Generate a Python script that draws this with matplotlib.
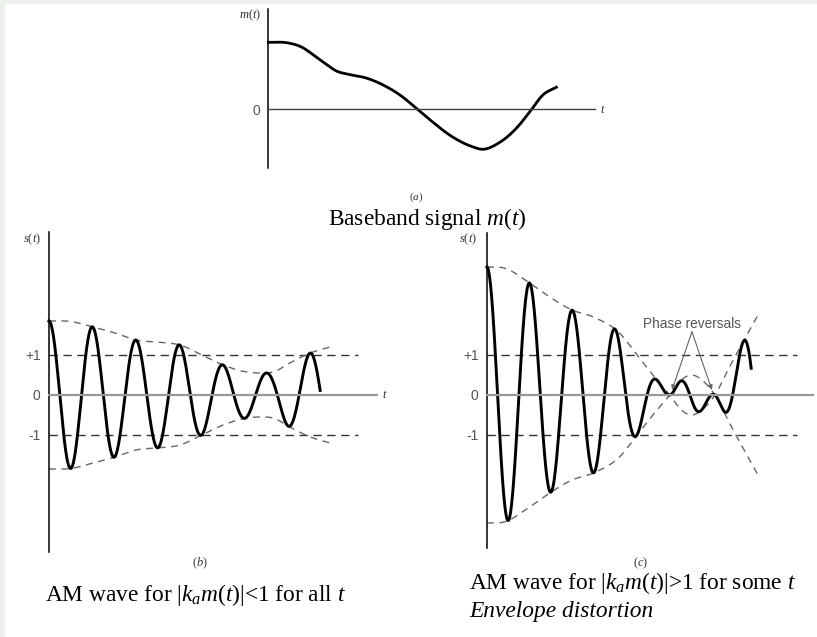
import numpy as np
import matplotlib
matplotlib.use("Agg")
import matplotlib.pyplot as plt
from matplotlib.patches import Rectangle

plt.rcParams['mathtext.fontset'] = 'custom'
plt.rcParams['mathtext.rm'] = 'Liberation Serif'
plt.rcParams['mathtext.it'] = 'Liberation Serif:italic'

#%% Data
# baseband signal m(t), normalised time 0..1
m_t = [0, .064, .110, .18, .242, .272, .342, .398, .457, .518, .569, .638, .708, .742, .80, .862, .908, .953, 1.0]
m_v = [1.0, .994, .94, .736, .561, .527, .464, .364, .213, 0.0, -.185, -.409, -.558, -.597, -.503, -.279, -.036, .213, .33]

# envelope 1 + ka*m(t) for |ka m(t)| < 1
env_b_t = [0, .075, .157, .235, .313, .39, .466, .544, .62, .70, .75, .80, .857, .93, 1.0]
env_b_v = [1.85, 1.84, 1.70, 1.55, 1.37, 1.32, 1.25, 1.0, 0.75, 0.58, 0.55, 0.58, 0.8, 1.05, 1.2]

# envelope for |ka m(t)| > 1 (goes negative -> phase reversals)
env_c_t = [0, .066, .15, .23, .31, .39, .487, .55, .62, .67, .71, .75, .79, .835, .89, .94, .993]
env_c_v = [3.2, 3.17, 2.83, 2.45, 2.13, 1.95, 1.54, 1.0, 0.4, 0.0, -0.36, -0.5, -0.36, 0.0, 0.72, 1.35, 2.0]

# carrier cycles per unit time, and where the drawn wave stops
fc_b, t_end_b = 6.46, 0.965
fc_c, t_end_c = 6.39, 0.968

level_ticks = [1, 0, -1]
level_labels = ['+1', '0', '-1']


#%% helpers
def smooth(tk, yk, t):
    # cubic hermite through the knots
    tk = np.asarray(tk, float)
    yk = np.asarray(yk, float)
    d = np.gradient(yk, tk)
    i = np.clip(np.searchsorted(tk, t, side='right') - 1, 0, len(tk) - 2)
    h = tk[i + 1] - tk[i]
    s = (t - tk[i]) / h
    h00 = 2*s**3 - 3*s**2 + 1
    h10 = s**3 - 2*s**2 + s
    h01 = -2*s**3 + 3*s**2
    h11 = s**3 - s**2
    return h00*yk[i] + h10*h*d[i] + h01*yk[i + 1] + h11*h*d[i + 1]


W, H = 817, 637
def box(x0, y0, x1, y1):
    return [x0/W, 1 - y1/H, (x1 - x0)/W, (y1 - y0)/H]

def fpos(x, y):
    return x/W, 1 - y/H

SERIF = 'Liberation Serif'
SANS = 'Liberation Sans'
CAP = 16.8   # caption font size
SMALL = 9    # s(t), m(t), (b) ...


def setup_axes(ax, xlim, ylim, left_bounds, zero_end, zero_color, zero_lw):
    ax.set_xlim(*xlim)
    ax.set_ylim(*ylim)
    ax.patch.set_alpha(0)
    for s in ['top', 'right']:
        ax.spines[s].set_visible(False)
    ax.spines['left'].set_position(('data', 0))
    ax.spines['left'].set_bounds(*left_bounds)
    ax.spines['left'].set_linewidth(1.1)
    ax.spines['bottom'].set_position(('data', 0))
    ax.spines['bottom'].set_bounds(0, zero_end)
    ax.spines['bottom'].set_color(zero_color)
    ax.spines['bottom'].set_linewidth(zero_lw)
    ax.set_xticks([])
    ax.tick_params(axis='y', length=0, pad=6, labelsize=10, labelcolor='#555555')


fig = plt.figure(figsize=(W/100, H/100), dpi=100)
fig.patches.append(Rectangle((0, 1 - 3/H), 1, 3/H, transform=fig.transFigure, color='#eef2ec', zorder=0))
fig.patches.append(Rectangle((0, 0), 4/W, 1, transform=fig.transFigure, color='#eef2ec', zorder=0))

#%% (a) baseband signal
ax_a = fig.add_axes(box(220, 4, 620, 175))
setup_axes(ax_a, (-0.168, 1.221), (-0.981, 1.572), (-0.876, 1.497), 1.134, '#444444', 1.0)
ax_a.set_yticks([0], ['0'])
for lab in ax_a.get_yticklabels():
    lab.set_family(SANS)
ta = np.linspace(0, 1, 400)
ax_a.plot(ta, smooth(m_t, m_v, ta), color='black', lw=2.0, clip_on=False)
ax_a.text(-0.064, 1.41, '$m(t)$', fontsize=SMALL, ha='center', va='center', color='#333333')
ax_a.text(1.163, 0, '$t$', fontsize=SMALL, ha='center', va='center', color='#333333')

#%% (b) AM wave, no overmodulation
ax_b = fig.add_axes(box(0, 228, 400, 560))
setup_axes(ax_b, (-0.174, 1.249), (-4.125, 4.175), (-3.925, 4.075), 1.167, '#999999', 1.6)
ax_b.set_yticks(level_ticks, level_labels)
for lab in ax_b.get_yticklabels():
    lab.set_family(SANS)
ax_b.hlines([1, -1], 0, 1.10, colors='#333333', lw=1.0, linestyles=(0, (6, 4)))
te = np.linspace(0, 1.0, 300)
eb = smooth(env_b_t, env_b_v, te)
ax_b.plot(te, eb, color='#666666', lw=1.0, ls=(0, (5, 4)))
ax_b.plot(te, -eb, color='#666666', lw=1.0, ls=(0, (5, 4)))
tb = np.linspace(0, t_end_b, 1200)
ax_b.plot(tb, smooth(env_b_t, env_b_v, tb)*np.cos(2*np.pi*fc_b*tb), color='black', lw=2.1, clip_on=False)
ax_b.text(-0.06, 3.9, '$s(t)$', fontsize=SMALL, ha='center', va='center', color='#333333')
ax_b.text(1.196, 0, '$t$', fontsize=SMALL, ha='center', va='center', color='#333333')

#%% (c) AM wave, overmodulated
ax_c = fig.add_axes(box(420, 228, 817, 560))
setup_axes(ax_c, (-0.245, 1.209), (-4.125, 4.175), (-3.825, 4.05), 1.194, '#999999', 1.6)
ax_c.set_yticks(level_ticks, level_labels)
for lab in ax_c.get_yticklabels():
    lab.set_family(SANS)
ax_c.hlines([1, -1], 0, 1.136, colors='#333333', lw=1.0, linestyles=(0, (6, 4)))
te = np.linspace(0, env_c_t[-1], 300)
ec = smooth(env_c_t, env_c_v, te)
ax_c.plot(te, ec, color='#666666', lw=1.0, ls=(0, (5, 4)))
ax_c.plot(te, -ec, color='#666666', lw=1.0, ls=(0, (5, 4)))
tc = np.linspace(0, t_end_c, 1200)
ax_c.plot(tc, smooth(env_c_t, env_c_v, tc)*np.cos(2*np.pi*fc_c*tc), color='black', lw=2.1, clip_on=False)
ax_c.text(-0.07, 3.9, '$s(t)$', fontsize=SMALL, ha='center', va='center', color='#333333')
ax_c.text(0.751, 1.78, 'Phase reversals', fontsize=9.8, family=SANS, ha='center', va='center', color='#555555')
for tip in [(0.678, 0.125), (0.824, 0.125)]:
    ax_c.annotate('', xy=tip, xytext=(0.751, 1.58),
                  arrowprops=dict(arrowstyle='-|>', color='#666666', lw=0.8, mutation_scale=7,
                                  shrinkA=0, shrinkB=0))

#%% captions
fig.text(*fpos(416, 197), '$(a)$', fontsize=8, ha='center', va='center', color='#333333')
fig.text(*fpos(427, 219), 'Baseband signal $m(t)$', fontsize=CAP, family=SERIF, ha='center', va='center')
fig.text(*fpos(200, 563), '$(b)$', fontsize=SMALL, ha='center', va='center', color='#333333')
fig.text(*fpos(45, 595), 'AM wave for $|k_am(t)|$<1 for all $t$', fontsize=CAP, family=SERIF, ha='left', va='center')
fig.text(*fpos(641, 563), '$(c)$', fontsize=SMALL, ha='center', va='center', color='#333333')
fig.text(*fpos(469, 583), 'AM wave for $|k_am(t)|$>1 for some $t$', fontsize=CAP, family=SERIF, ha='left', va='center')
fig.text(*fpos(469, 612), 'Envelope distortion', fontsize=CAP, family=SERIF, style='italic', ha='left', va='center')

fig.savefig("out.png", dpi=100)
